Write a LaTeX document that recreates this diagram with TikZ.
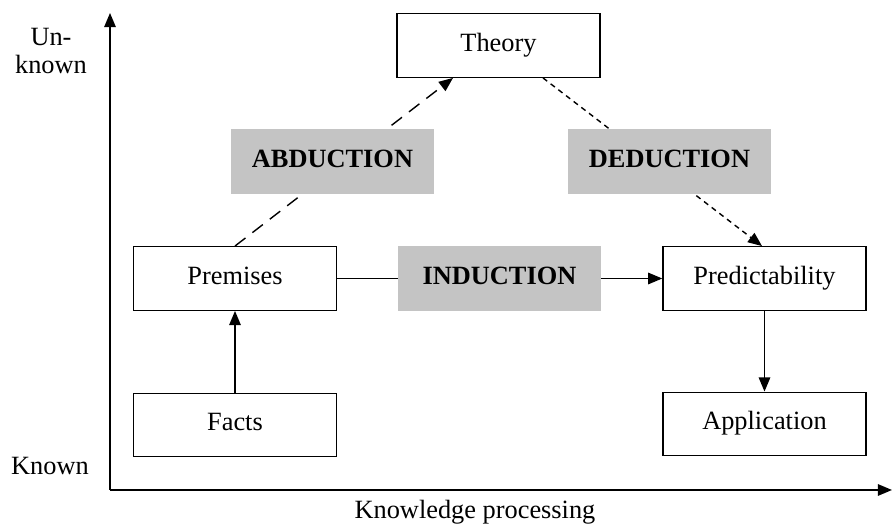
\documentclass[tikz,border=0pt]{standalone}
\usepackage{fontspec}
\setmainfont{Liberation Serif}
\usepackage{tikz}
\usetikzlibrary{arrows.meta, positioning, calc, backgrounds}
\definecolor{ProcessGray}{RGB}{196,196,196}
\tikzstyle{stage} = [draw, line width=0.8pt, minimum width=4.06cm, minimum height=1.27cm, inner sep=0pt, text height=0.76em, text depth=0.1em]
\tikzstyle{process} = [fill=ProcessGray, minimum width=4.06cm, minimum height=1.3cm, inner sep=0pt, text height=0.76em, text depth=0.1em, font=\fontsize{15}{17}\selectfont\bfseries]
\tikzstyle{arrow} = [line width=0.8pt, -{Triangle[length=8pt,width=6.5pt]}]

\begin{document}
\begin{tikzpicture}[font=\fontsize{15}{16}\selectfont]
                    \useasboundingbox (0,0) rectangle (17.86,10.48);
                    % axes
                    \coordinate (origin) at (2.2,0.68);
                    \coordinate (ytip) at (2.2,10.22);
                    \coordinate (xtip) at (17.84,0.68);
                    \draw[arrow, line width=0.9pt] (origin) -- (ytip);
                    \draw[arrow, line width=0.9pt] (origin) -- (xtip);
                    \node[align=center] (unknown) at (1.02,9.46) {Un-\\known};
                    \node (known) at (1.0,1.16) {Known};
                    \node (kproc) at (9.5,0.24) {Knowledge processing};
                    % boxes
                    \node[stage] (theory) at (9.97,9.57) {Theory};
                    \node[stage] (premises) at (4.70,4.91) {Premises};
                    \node[stage] (facts) at (4.70,1.98) {Facts};
                    \node[stage] (predict) at (15.29,4.91) {Predictability};
                    \node[stage] (application) at (15.29,2.0) {Application};
                    \node[process] (induction) at (9.99,4.91) {INDUCTION};
                    \node[process] (abduction) at (6.65,7.25) {ABDUCTION};
                    \node[process] (deduction) at (13.39,7.25) {DEDUCTION};
                    % links
                    \draw[arrow] (facts) -- (premises);
                    \draw[line width=0.8pt] (premises) -- (induction);
                    \draw[arrow] (induction) -- (predict);
                    \draw[arrow] (predict) -- (application);
                    \begin{scope}[on background layer]
                        \draw[arrow, dash pattern=on 7.5pt off 5pt] (premises.north) -- ($(theory.south)+(-0.91,0)$);
                        \draw[arrow, dash pattern=on 3pt off 2.5pt] ($(theory.south)+(0.89,0)$) -- ($(predict.north)+(-0.05,0)$);
                    \end{scope}
                \end{tikzpicture}
\end{document}
